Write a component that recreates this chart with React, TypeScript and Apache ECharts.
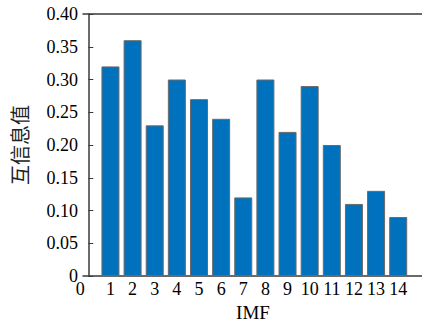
import React, { useEffect, useRef } from "react";
import * as echarts from "echarts";

const imfIndex = [1, 2, 3, 4, 5, 6, 7, 8, 9, 10, 11, 12, 13, 14];
const miValues = [0.32, 0.36, 0.23, 0.3, 0.27, 0.24, 0.12, 0.3, 0.22, 0.29, 0.2, 0.11, 0.13, 0.09];
const xTickValues = [0, 1, 2, 3, 4, 5, 6, 7, 8, 9, 10, 11, 12, 13, 14];
const yAxisTitle = "互信息值";
const xAxisTitle = "IMF";

const FONT = "'Liberation Serif', 'Noto Sans CJK SC', serif";

export default function App() {
  const ref = useRef<HTMLDivElement>(null);
  useEffect(() => {
    if (!ref.current) return;
    const chart = echarts.init(ref.current, undefined, { renderer: "svg" });
    const axisColor = "#3a3a3a";
    chart.setOption({
      animation: false,
      grid: { left: 83, right: -1, top: 14, bottom: 47, containLabel: false, outerBoundsMode: "none" },
      xAxis: [
        {
          type: "value",
          min: -0.24,
          max: 15.12,
          name: xAxisTitle,
          nameLocation: "middle",
          nameGap: 27,
          nameTextStyle: { fontFamily: FONT, fontSize: 19, color: "#000" },
          axisLine: { show: true, lineStyle: { color: axisColor, width: 1.5 } },
          axisTick: { show: true, inside: true, length: 5, customValues: imfIndex, lineStyle: { color: axisColor } },
          axisLabel: {
            customValues: xTickValues,
            fontFamily: FONT,
            fontSize: 18,
            color: "#000",
            margin: 4,
            formatter: (v: number) => (v === 0 ? "{z|0}" : String(v)),
            rich: {
              z: { fontFamily: FONT, fontSize: 18, color: "#000", padding: [0, 16, 0, 0] },
            },
          },
          splitLine: { show: false },
        },
        {
          type: "value",
          position: "top",
          min: -0.24,
          max: 15.12,
          axisLine: { show: true, onZero: false, lineStyle: { color: axisColor, width: 1.5 } },
          axisTick: { show: false },
          axisLabel: { show: false },
          splitLine: { show: false },
        },
      ],
      yAxis: {
        type: "value",
        min: 0,
        max: 0.4,
        interval: 0.05,
        name: yAxisTitle,
        nameLocation: "middle",
        nameGap: 52,
        nameRotate: 90,
        nameTextStyle: { fontFamily: FONT, fontSize: 20, color: "#222" },
        axisLine: { show: true, lineStyle: { color: axisColor, width: 1.5 } },
        axisTick: { show: true, inside: true, length: 5, lineStyle: { color: axisColor } },
        axisLabel: {
          fontFamily: FONT,
          fontSize: 18,
          color: "#000",
          margin: 5,
          formatter: (v: number) => (v === 0 ? "0" : v.toFixed(2)),
        },
        splitLine: { show: false },
      },
      series: [
        {
          type: "bar",
          xAxisIndex: 0,
          data: imfIndex.map((x, i) => [x, miValues[i]]),
          barWidth: 18,
          itemStyle: { color: "#0072BD", borderColor: "#6a6a6a", borderWidth: 1 },
        },
      ],
    });
    return () => chart.dispose();
  }, []);
  return <div ref={ref} style={{ width: 422, height: 323, position: "absolute", left: 0, top: 0, background: "#fff" }} />;
}
